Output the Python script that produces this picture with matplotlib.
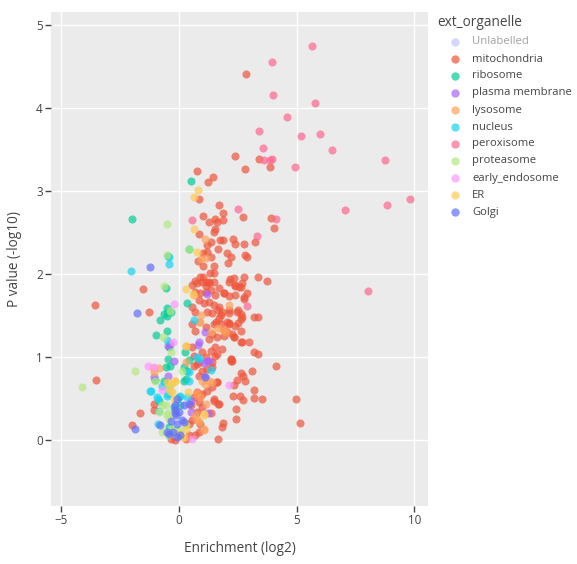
import matplotlib
matplotlib.use("Agg")
import matplotlib.pyplot as plt
from matplotlib.lines import Line2D

plt.rcParams['font.family'] = ['Open Sans', 'DejaVu Sans']

categories = ["Unlabelled", "mitochondria", "ribosome", "plasma membrane", "lysosome",
              "nucleus", "peroxisome", "proteasome", "early_endosome", "ER", "Golgi"]
colors = ["#636EFA", "#EF553B", "#00CC96", "#AB63FA", "#FFA15A",
          "#19D3F3", "#FF6692", "#B6E880", "#FF97FF", "#FECB52", "#636EFA"]

mito = [(2.83,4.41),(2.36,3.42),(3.38,3.39),(2.82,3.27),(3.85,3.29),(2.73,2.69),(3.91,2.68),(4.05,2.56),
        (2.29,2.43),(2.40,2.36),(2.76,2.37),(3.21,2.39),
        (0.76,3.24),(1.45,3.17),(1.23,3.11),(0.84,2.91),(1.72,2.83),(1.85,2.74),(1.03,2.70),(1.54,2.67),
        (1.26,2.63),(1.62,2.63),(1.85,2.65),(1.51,2.54),(1.48,2.51),(0.84,2.49),(1.74,2.41),(1.85,2.41),
        (1.37,2.39),(1.20,2.35),(1.65,2.30),(2.03,2.26),(2.22,2.21),(1.03,2.25),(1.21,2.27),(1.34,2.21),
        (0.80,2.16),(1.04,2.10),(1.48,2.10),(2.09,2.13),(2.80,2.23),(2.90,2.21),(0.91,1.97),(0.70,1.92),
        (1.31,2.01),(1.48,2.01),(1.14,1.91),(1.28,1.91),(2.15,1.94),(2.33,1.96),(2.77,1.97),(3.35,1.97),
        (3.74,1.92),(2.36,1.86),(2.55,1.85),(2.90,1.78),(1.91,1.78),(2.14,1.74),(-1.51,1.82),(1.01,1.97),
        (-3.58,1.63),(-1.28,1.55),(-3.52,0.73),(-1.67,0.33),(-1.99,0.18),
        (2.76,1.70),(2.52,1.57),(2.62,1.52),(3.18,1.49),(3.37,1.49),(1.65,1.57),(1.77,1.51),(2.12,1.53),
        (1.58,1.43),(1.77,1.40),(2.12,1.41),(2.50,1.41),(1.91,1.33),(2.05,1.30),(2.33,1.24),(2.63,1.18),
        (3.18,1.06),(3.37,1.04),(2.19,0.98),(2.22,0.96),(1.60,1.04),(4.11,0.89),(3.09,0.84),(2.62,0.81),
        (2.71,0.78),(2.48,0.73),(2.82,0.72),(2.33,0.67),(1.62,0.70),(3.17,0.61),(2.29,0.53),(2.59,0.53),
        (2.73,0.49),(3.17,0.51),(3.51,0.50),(1.48,0.48),(1.67,0.44),(2.43,0.38),(2.43,0.26),(1.86,0.21),
        (1.81,0.16),(1.65,0.02),(1.34,0.33),(2.62,1.85),(2.62,1.46),(4.99,0.50),(5.14,0.21),(2.97,1.18),
        (-1.05,0.44),(-1.08,0.36),
        (0.56,1.87),(0.77,1.89),(0.99,1.91),(1.13,1.86),(1.27,1.89),(1.48,1.91),(1.34,1.81),(0.70,1.79),
        (0.91,1.77),(1.13,1.79),(1.55,1.75),(1.70,1.83),(2.12,1.91),(2.40,1.87),(2.69,1.89),(2.40,1.75),
        (2.76,1.73),(1.91,1.77),(0.84,1.69),(1.06,1.65),(1.27,1.67),(1.48,1.63),(1.70,1.61),(0.56,1.61),
        (0.70,1.55),(1.20,1.55),(1.41,1.53),(1.84,1.55),(2.12,1.57),(2.48,1.55),(2.69,1.49),(1.70,1.47),
        (2.05,1.42),(2.40,1.38),(0.56,1.40),(0.70,1.32),(1.13,1.36),(1.48,1.40),(1.41,1.28),(1.62,1.24),
        (1.27,1.22),(1.91,1.26),(2.26,1.28),(2.33,1.24),(2.12,1.40),(2.62,1.32),(2.69,1.18),(1.55,1.12),
        (1.34,1.08),(1.84,1.10),(0.56,1.12),(0.99,1.06),(0.63,1.02),(1.13,1.00),(1.55,1.02),(2.19,0.98),
        (2.26,0.96),(1.41,0.94),(0.84,0.94),
        (0.63,0.90),(0.77,0.92),(0.99,0.84),(1.20,0.86),(1.41,0.88),(0.84,0.78),(1.62,0.70),(1.41,0.64),
        (0.77,0.58),(0.99,0.56),(1.20,0.60),(0.63,0.52),(0.91,0.54),(1.48,0.50),(1.70,0.44),(0.84,0.46),
        (0.49,0.42),(0.99,0.40),(0.77,0.34),(0.56,0.24),(0.42,0.20),(0.91,0.20),(0.84,0.10),(0.70,0.06),
        (0.28,0.02),(-0.36,0.02),(-0.15,0.00),(0.42,0.06)]

ribosome = [(-2.01,2.67),(0.50,3.12),(0.42,2.30),(-0.45,2.22),(-0.57,1.83),(0.32,1.65),(-0.50,1.59),
            (-0.45,1.55),(-0.62,1.52),(-0.36,1.54),(-0.52,1.50),(-0.80,1.45),(-0.96,1.27),(-0.50,1.32),
            (-0.43,1.13),(-0.48,0.98),(0.42,0.97),(0.25,1.06),(-0.57,0.88),(-0.39,0.90),(-0.65,0.72),
            (0.20,0.72),(0.28,0.74),(-0.83,0.47),(-0.22,0.40),(-1.00,0.73),(0.20,0.88),(0.32,0.84),
            (0.00,0.52),(0.06,0.42),(-0.43,0.16)]

plasma_membrane = [(1.17,1.76),(1.09,1.30),(0.84,1.18),(0.80,1.15),(1.27,0.96),(1.06,0.93),(-0.39,1.16),
                   (-0.48,1.14),(-0.22,0.96),(1.09,0.76),(1.24,0.33),(0.49,0.48),(-0.48,0.78),(0.49,0.34),
                   (-1.07,0.76),(1.20,0.96)]

lysosome = [(1.10,2.42),(0.94,2.18),(1.13,2.19),(2.12,1.63),(0.63,1.75),(0.93,1.51),(0.89,1.42),(1.65,1.35),
            (1.88,1.33),(0.28,1.14),(1.34,1.30),(-1.11,0.87),(-1.07,0.82),(-0.86,0.87),(1.10,0.68),
            (1.41,0.70),(1.13,0.44),(0.70,0.30),(0.77,0.26),(1.06,0.14),(0.84,1.43),(1.98,1.30),(0.28,0.94),
            (0.99,0.71),(1.27,0.72),(0.77,0.57),(0.91,0.52),(0.84,0.22),(1.06,0.12)]

nucleus = [(-2.06,2.04),(-0.43,2.21),(-0.43,2.12),(-1.23,0.59),(0.62,1.45),(0.77,1.00),(-0.50,1.21),
           (-0.72,0.66),(-1.17,0.59),(-0.43,0.66),(-0.95,0.52),(-0.89,0.50),(-0.50,0.54),(0.42,0.72),
           (1.34,0.85),(0.84,0.98),(0.42,0.82),(-0.48,0.56),(0.06,0.54),(0.32,0.52),(-0.86,0.35),(-0.89,0.20)]

peroxisome = [(5.63,4.75),(3.97,4.55),(3.99,4.16),(5.79,4.06),(4.60,3.89),(3.38,3.72),(5.17,3.67),(5.97,3.69),
              (6.48,3.50),(3.57,3.52),(3.60,3.38),(3.85,3.37),(3.97,3.39),(4.91,3.29),(8.74,3.37),(8.82,2.83),
              (9.82,2.90),(7.06,2.77),(2.49,2.79),(4.14,2.67),(3.30,2.46),(8.05,1.80),(2.90,1.62),(0.57,2.65)]

proteasome = [(-0.49,2.60),(-0.50,2.23),(-0.65,1.86),(0.42,2.30),(-4.14,0.64),(-1.88,0.84),(-0.66,1.24),
              (-0.32,1.06),(-0.40,1.56),(0.12,0.84),(-1.00,0.72),(-0.72,0.43),(-0.57,0.42),(-0.46,0.33),
              (-0.43,0.26),(-0.36,0.14),(0.06,0.12),(0.28,0.18),(-0.15,0.08),(-0.36,0.68),(-0.48,0.64),
              (-0.86,0.34),(-0.50,0.30),(-0.72,0.10),(-0.48,0.06),(-0.15,0.12),(0.06,0.08)]

early_endosome = [(-0.22,1.64),(-0.26,1.18),(-1.33,0.89),(-1.07,0.88),(-0.72,0.61),(2.12,0.67),(0.56,0.02)]

er = [(0.80,3.02),(0.63,2.93),(0.63,2.54),(0.76,2.27),(0.31,1.82),(0.60,1.76),(-0.50,0.70),(-0.36,0.68),
      (-0.18,0.71),(-0.22,0.50),(0.00,0.08),(0.14,0.04),(1.06,0.32),(0.31,1.14),(-0.15,0.72),(-0.39,0.60),
      (-0.29,0.58),(0.37,0.58),(1.06,0.30),(0.28,0.14),(0.20,0.04)]

golgi = [(-1.24,2.09),(-1.77,1.53),(-1.89,0.14),(-0.08,0.50),(-0.15,0.42),(-0.08,0.20),(0.20,0.22),
         (-0.08,0.04),(0.03,0.06),(-0.19,0.36),(-0.36,0.23),(-0.43,0.08),(-0.79,0.18),(-0.18,0.33),
         (-0.11,0.30),(0.20,0.42),(0.00,0.34),(0.14,0.24),(-0.50,0.10),(-0.26,0.10),(1.10,0.76),(0.42,0.44)]

series = {"mitochondria": mito, "ribosome": ribosome, "plasma membrane": plasma_membrane,
          "lysosome": lysosome, "nucleus": nucleus, "peroxisome": peroxisome,
          "proteasome": proteasome, "early_endosome": early_endosome, "ER": er, "Golgi": golgi}

W, H = 577, 564
fig = plt.figure(figsize=(W/100, H/100), dpi=100)
ax = fig.add_axes([51/W, 1-506/H, (428-51)/W, (506-12)/H])
ax.set_facecolor("#EBEBEB")
for s in ax.spines.values():
    s.set_visible(False)

msize = 34
for z, (name, col) in enumerate(zip(categories, colors)):
    if name not in series:
        continue
    pts = series[name]
    ax.scatter([p[0] for p in pts], [p[1] for p in pts], s=msize, c=col, alpha=0.7,
               linewidths=0, zorder=3+z)

ax.set_xlim(-5.44, 10.58)
ax.set_ylim(-0.79, 5.157)
ax.set_xticks([-5, 0, 5, 10])
ax.set_xticklabels(["\u22125", "0", "5", "10"])
ax.set_yticks([0, 1, 2, 3, 4, 5])
ax.grid(True, color="white", linewidth=1.0, zorder=1)
ax.set_axisbelow(True)
ax.tick_params(direction="out", length=4, width=1, color="#444444", labelcolor="#444444",
               labelsize=8.4, pad=2)
ax.set_xlabel("Enrichment (log2)", fontsize=9.8, color="#444444", labelpad=10)
ax.set_ylabel("P value (-log10)", fontsize=9.8, color="#444444", labelpad=10)

# legend
fig.text(437/W, 1-22/H, "ext_organelle", fontsize=9.8, color="#444444", va="center", ha="left")
for i, (name, col) in enumerate(zip(categories, colors)):
    yy = 1 - (42 + 17*i)/H
    hidden = (name == "Unlabelled")
    fig.add_artist(Line2D([455/W], [yy], marker="o", markersize=6, color=col,
                          markeredgewidth=0, alpha=0.7*(0.4 if hidden else 1), transform=fig.transFigure))
    fig.text(472/W, yy, name, fontsize=8.1, color="#444444", alpha=0.5 if hidden else 1,
             va="center", ha="left")

fig.savefig("out.png", dpi=100, facecolor="white")
